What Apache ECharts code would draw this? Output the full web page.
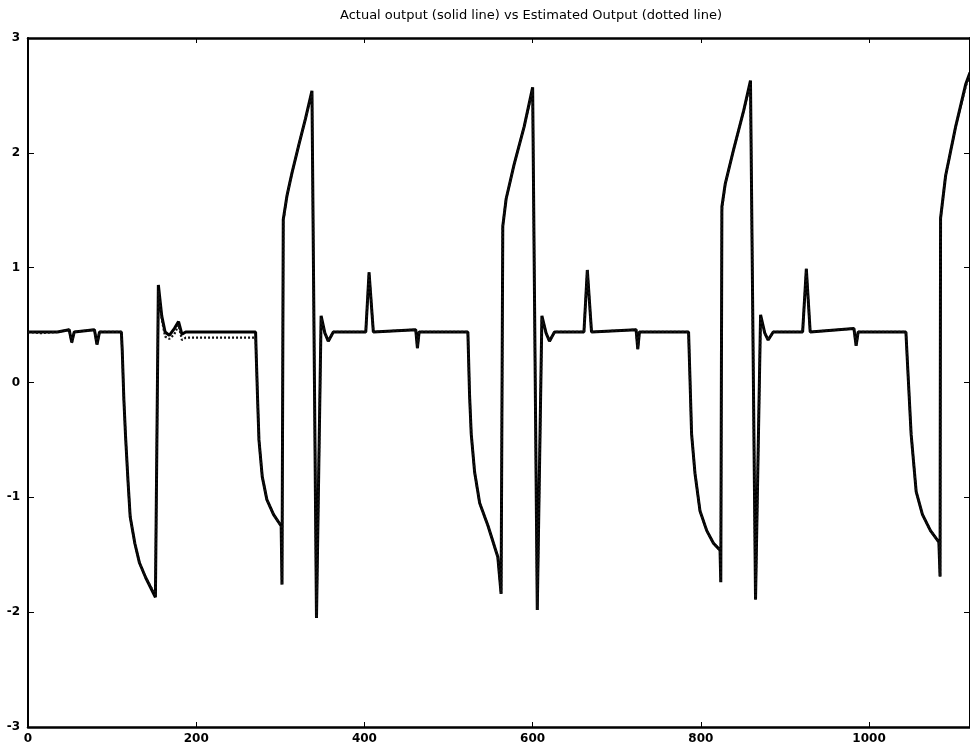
<!DOCTYPE html>
<html>
<head>
<meta charset="utf-8">
<script src="https://cdn.jsdelivr.net/npm/echarts@6/dist/echarts.min.js"></script>
<style>
html,body{margin:0;padding:0;background:#fff;}
#chart{width:970px;height:751px;}
</style>
</head>
<body>
<div id="chart"></div>
<script>
const titleText = 'Actual output (solid line) vs Estimated Output (dotted line)';
const xTicks = [0, 200, 400, 600, 800, 1000];
const yTicks = [-3, -2, -1, 0, 1, 2, 3];

const timeX = [0,15,35,49,52,55,79,82,85,111,112,114,116,119,121.5,127,132.5,140,151.5,155,159,163,168,174,179,183,187.5,230,270.6,271.4,273,274.6,278.5,284,292,301,302,303.5,308,314,322,330,337.6,343,348.5,353,357,363,401.6,405.5,410.6,461,463,465,523,525,527,531,537,547,558.6,562.5,564.5,568.5,578,590,600,605.5,611,616,620,626,661,665,670,723,725,727,785.4,787,789,793,799,807,815,822.8,823.7,825,829,839,851,859,865,871,876,880,886,921,925.4,930,982,984.6,987,1043.8,1046,1050,1056,1063.5,1073,1083,1084.4,1085,1091,1103,1115,1120];

const actualY = [0.44,0.44,0.44,0.46,0.35,0.44,0.46,0.33,0.44,0.44,0.29,-0.15,-0.47,-0.87,-1.17,-1.40,-1.57,-1.70,-1.87,0.85,0.58,0.44,0.41,0.47,0.53,0.42,0.44,0.44,0.44,0.23,-0.15,-0.50,-0.82,-1.02,-1.15,-1.25,-1.76,1.42,1.63,1.83,2.07,2.30,2.54,-2.05,0.58,0.43,0.36,0.44,0.44,0.96,0.44,0.46,0.30,0.44,0.44,-0.11,-0.45,-0.78,-1.05,-1.25,-1.52,-1.84,1.36,1.60,1.90,2.23,2.57,-1.98,0.58,0.43,0.36,0.44,0.44,0.98,0.44,0.46,0.29,0.44,0.44,0.05,-0.45,-0.79,-1.12,-1.29,-1.40,-1.46,-1.74,1.53,1.73,2.03,2.37,2.63,-1.89,0.59,0.43,0.37,0.44,0.44,0.99,0.44,0.47,0.32,0.44,0.44,0.12,-0.45,-0.95,-1.15,-1.29,-1.39,-1.69,1.43,1.80,2.23,2.60,2.70];

const estimatedY = [0.44,0.43,0.44,0.46,0.34,0.44,0.46,0.33,0.44,0.44,0.27,-0.15,-0.47,-0.87,-1.17,-1.40,-1.57,-1.70,-1.85,0.80,0.55,0.40,0.38,0.42,0.50,0.37,0.39,0.39,0.39,0.23,-0.15,-0.50,-0.82,-1.02,-1.15,-1.25,-1.76,1.40,1.63,1.83,2.07,2.30,2.52,-2.05,0.56,0.43,0.36,0.44,0.44,0.96,0.44,0.46,0.30,0.44,0.44,-0.11,-0.45,-0.78,-1.05,-1.25,-1.52,-1.84,1.36,1.60,1.90,2.23,2.55,-1.98,0.56,0.43,0.36,0.44,0.44,0.98,0.44,0.46,0.29,0.44,0.44,0.05,-0.45,-0.79,-1.12,-1.29,-1.40,-1.46,-1.74,1.50,1.73,2.03,2.37,2.60,-1.89,0.57,0.43,0.37,0.44,0.44,0.99,0.44,0.47,0.32,0.44,0.44,0.12,-0.45,-0.95,-1.15,-1.29,-1.39,-1.69,1.43,1.80,2.23,2.58,2.68];

const actualData = timeX.map((x, i) => [x, actualY[i]]);
const estimatedData = timeX.map((x, i) => [x, estimatedY[i]]);

const chart = echarts.init(document.getElementById('chart'), null, {renderer: 'canvas'});
const axisFont = {color: '#000', fontSize: 12, fontWeight: 'bold', fontFamily: 'DejaVu Sans, Liberation Sans, sans-serif'};
chart.setOption({
  backgroundColor: '#fff',
  animation: false,
  title: {
    text: titleText,
    left: 335, top: 4,
    textStyle: {fontSize: 13, fontWeight: 'normal', color: '#000', fontFamily: 'DejaVu Sans, Liberation Sans, sans-serif'}
  },
  grid: {left: 28, right: -4, top: 38, bottom: 24, containLabel: false},
  xAxis: [
    {type: 'value', position: 'bottom', min: 0, max: 1120, interval: 200,
     axisLine: {show: true, onZero: false, lineStyle: {color: '#000', width: 2.5}},
     axisTick: {show: true, inside: true, length: 5, lineStyle: {color: '#000', width: 1}},
     axisLabel: {show: true, margin: 6, showMaxLabel: false, ...axisFont,
       formatter: v => xTicks.includes(v) ? String(v) : ''},
     splitLine: {show: false}},
    {type: 'value', position: 'top', min: 0, max: 1120, interval: 200,
     axisLine: {show: true, onZero: false, lineStyle: {color: '#000', width: 2.5}},
     axisTick: {show: true, inside: true, length: 5, lineStyle: {color: '#000', width: 1}},
     axisLabel: {show: false}, splitLine: {show: false}}
  ],
  yAxis: [
    {type: 'value', position: 'left', min: -3, max: 3, interval: 1,
     axisLine: {show: true, onZero: false, lineStyle: {color: '#000', width: 2}},
     axisTick: {show: true, inside: true, length: 6, lineStyle: {color: '#000', width: 1}},
     axisLabel: {show: true, margin: 8, ...axisFont,
       formatter: v => yTicks.includes(v) ? String(v) : ''},
     splitLine: {show: false}},
    {type: 'value', position: 'right', min: -3, max: 3, interval: 1,
     axisLine: {show: true, onZero: false, lineStyle: {color: '#000', width: 2}},
     axisTick: {show: true, inside: true, length: 6, lineStyle: {color: '#000', width: 1}},
     axisLabel: {show: false}, splitLine: {show: false}}
  ],
  series: [
    {name: 'Actual output', type: 'line', xAxisIndex: 0, yAxisIndex: 0,
     data: actualData, showSymbol: false, smooth: false,
     lineStyle: {color: '#000', width: 3, type: 'solid'}, z: 3},
    {name: 'Estimated Output', type: 'line', xAxisIndex: 0, yAxisIndex: 0,
     data: estimatedData, showSymbol: false, smooth: false,
     lineStyle: {color: '#111', width: 2.2, type: [2, 2]}, z: 4}
  ]
});
</script>
</body>
</html>
